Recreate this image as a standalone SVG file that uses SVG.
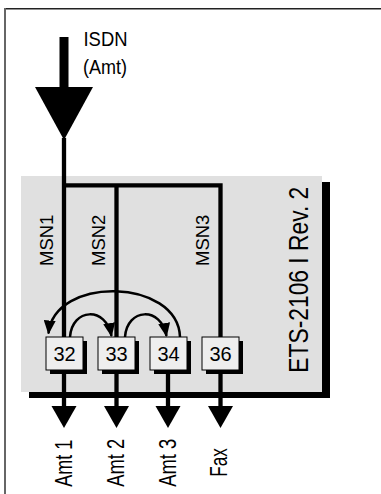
<svg xmlns="http://www.w3.org/2000/svg" width="381" height="494" viewBox="0 0 381 494">
<style>
text{font-family:"Liberation Sans",Arial,sans-serif;fill:#000}
.port rect.sh{fill:#000}
.port rect.bx{fill:#eeeeee;stroke:#000;stroke-width:1}
.port text{font-size:20px;text-anchor:middle}
.msn{font-size:18.5px}
.out{font-size:24px}
.ln{stroke:#000;stroke-width:4.3;fill:none}
.arc{stroke:#000;stroke-width:2.5;fill:none;marker-end:url(#ah)}
</style>
<defs>
<marker id="ah" markerUnits="userSpaceOnUse" markerWidth="14" markerHeight="12" viewBox="0 0 14 12" refX="13" refY="6" orient="auto">
<path d="M0,0 L14,6 L0,12 Z" fill="#000"/>
</marker>
</defs>
<rect width="381" height="494" fill="#fff"/>
<g id="frame">
<line x1="4" y1="8.7" x2="381" y2="8.7" stroke="#222" stroke-width="1.6"/>
<line x1="5" y1="8" x2="5" y2="494" stroke="#666" stroke-width="2"/>
</g>
<g id="device">
<rect x="29" y="182" width="301" height="216" fill="#000"/>
<rect x="21" y="176" width="301" height="216" fill="#e0e0e0"/>
<text transform="translate(308,372.7) rotate(-90)" font-size="28" textLength="186" lengthAdjust="spacingAndGlyphs">ETS-2106 I Rev. 2</text>
</g>
<g id="isdn">
<rect x="59.5" y="37" width="9" height="51" fill="#000"/>
<polygon points="35,87 93,87 64,140" fill="#000"/>
<text x="83.5" y="46" font-size="20" textLength="44" lengthAdjust="spacingAndGlyphs">ISDN</text>
<text x="83" y="74" font-size="20" textLength="44" lengthAdjust="spacingAndGlyphs">(Amt)</text>
</g>
<g id="connectors">
<path class="ln" d="M64,138 V337"/>
<path class="ln" d="M64,185.3 H220.5 V337"/>
<path class="ln" d="M116.5,185.3 V337"/>
<path class="ln" d="M64,370 V407"/>
<path class="ln" d="M116.5,370 V407"/>
<path class="ln" d="M168,370 V407"/>
<path class="ln" d="M220.5,370 V407"/>
<polygon points="51.5,406 76.5,406 64,428" fill="#000"/>
<polygon points="104,406 129,406 116.5,428" fill="#000"/>
<polygon points="155.5,406 180.5,406 168,428" fill="#000"/>
<polygon points="208,406 233,406 220.5,428" fill="#000"/>
<path class="arc" d="M180,337 C178,278 54,275 48.5,333.5"/>
<path class="arc" d="M70,337 C72,308 106,306 111.5,336"/>
<path class="arc" d="M125,337 C127,308 161,306 166.5,336"/>
</g>
<g id="msn-labels" class="msn">
<text class="msn" transform="translate(52.5,266) rotate(-90)">MSN1</text>
<text class="msn" transform="translate(104.5,266) rotate(-90)">MSN2</text>
<text class="msn" transform="translate(208.5,266) rotate(-90)">MSN3</text>
</g>
<g id="port32" class="port">
<rect class="sh" x="50" y="341" width="37" height="33"/>
<rect class="bx" x="46" y="337" width="37" height="33"/>
<text x="64.5" y="360.5">32</text>
</g>
<g id="port33" class="port">
<rect class="sh" x="102" y="341" width="37" height="33"/>
<rect class="bx" x="98" y="337" width="37" height="33"/>
<text x="116.5" y="360.5">33</text>
</g>
<g id="port34" class="port">
<rect class="sh" x="154" y="341" width="37" height="33"/>
<rect class="bx" x="150" y="337" width="37" height="33"/>
<text x="168.5" y="360.5">34</text>
</g>
<g id="port36" class="port">
<rect class="sh" x="206" y="341" width="37" height="33"/>
<rect class="bx" x="202" y="337" width="37" height="33"/>
<text x="220.5" y="360.5">36</text>
</g>
<g id="amt1"><text class="out" transform="translate(71.5,486.7) rotate(-90)" textLength="47" lengthAdjust="spacingAndGlyphs">Amt 1</text></g>
<g id="amt2"><text class="out" transform="translate(124,486.7) rotate(-90)" textLength="48" lengthAdjust="spacingAndGlyphs">Amt 2</text></g>
<g id="amt3"><text class="out" transform="translate(175.5,486.7) rotate(-90)" textLength="48" lengthAdjust="spacingAndGlyphs">Amt 3</text></g>
<g id="fax"><text class="out" transform="translate(226.5,476.7) rotate(-90)" textLength="28.5" lengthAdjust="spacingAndGlyphs">Fax</text></g>
</svg>
